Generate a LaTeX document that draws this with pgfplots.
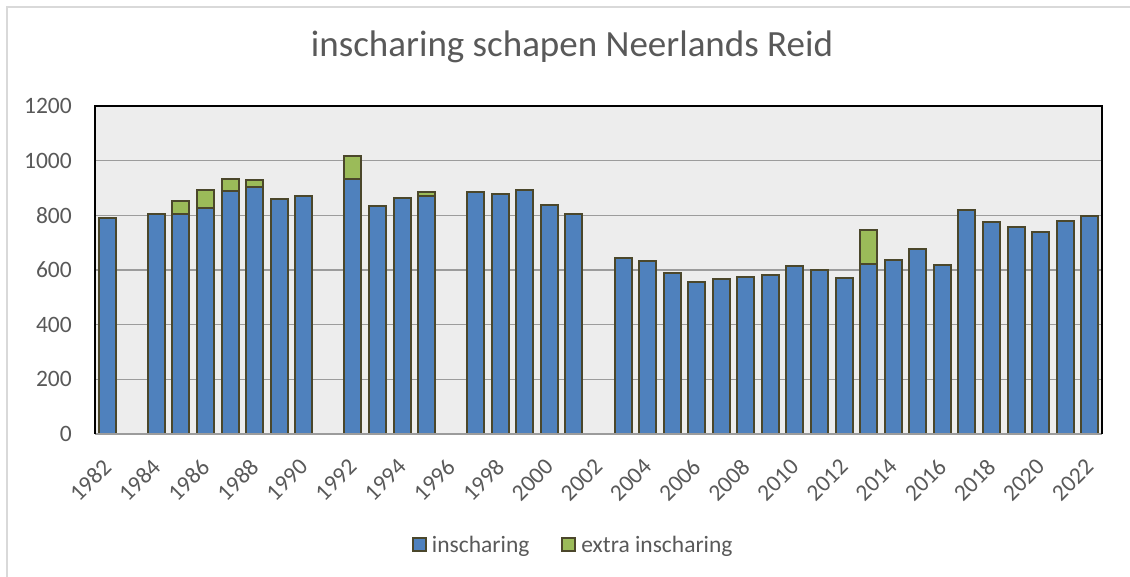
\documentclass[border=0pt]{standalone}
\usepackage{fontspec}
\setmainfont{Carlito}
\usepackage{pgfplots}
\pgfplotsset{compat=1.18}
\definecolor{barblue}{HTML}{4F81BD}
\definecolor{bargreen}{HTML}{9BBB59}
\definecolor{baredge}{HTML}{4B472B}
\definecolor{gridgray}{HTML}{9C9C9C}
\definecolor{bggray}{HTML}{EDEDED}
\definecolor{txtgray}{HTML}{595959}
\definecolor{bordergray}{HTML}{D9D9D9}
\begin{document}
\begin{tikzpicture}
\begin{axis}[
  at={(95bp,143bp)}, anchor=south west,
  scale only axis, width=1007bp, height=328bp,
  ybar stacked, bar width=17bp,
  xmin=1981.5, xmax=2022.5,
  ymin=0, ymax=1200,
  xtick={1982,1984,...,2022},
  ytick={0,200,...,1200},
  major tick length=0pt,
  /pgf/number format/1000 sep={},
  /pgf/number format/assume math mode=true,
  tick label style={font=\fontsize{23.5bp}{28bp}\selectfont, text=txtgray},
  yticklabel style={anchor=east, inner sep=0pt, xshift=-23bp},
  xticklabel style={inner sep=0pt, yshift=-29bp, rotate=45, anchor=east},
  ymajorgrids, grid style={gridgray, line width=1.5bp},
  axis line style={draw=none},
  axis background/.style={fill=bggray},
  title={inscharing schapen Neerlands Reid},
  title style={at={(0.4737,1.134)}, anchor=base, font=\fontsize{37bp}{44bp}\selectfont, text=txtgray, inner sep=0pt},
  legend columns=2,
  legend style={at={(0.475,-0.338)}, anchor=center, draw=none, fill=none,
    font=\fontsize{23.5bp}{28bp}\selectfont, text=txtgray,
    /tikz/every even column/.append style={column sep=30bp}},
  legend image code/.code={\draw[#1, line width=1.8bp] (0bp,-6.5bp) rectangle (13bp,6.5bp); \path[draw=none, fill=none] (0bp,0bp) -- (17bp,0bp);},
  after end axis/.code={
    \draw[gridgray, line width=1.5bp] (rel axis cs:0,0) -- (rel axis cs:1,0);
    \draw[black, line width=1.5bp] (rel axis cs:0,0) -- (rel axis cs:0,1) -- (rel axis cs:1,1) -- (rel axis cs:1,0);
  },
]
\addplot[fill=barblue, draw=baredge, line width=2bp] coordinates {
(1982,789) (1984,806) (1985,804) (1986,828) (1987,889) (1988,904) (1989,861) (1990,872)
(1992,933) (1993,834) (1994,863) (1995,870)
(1997,885) (1998,877) (1999,892) (2000,838) (2001,806)
(2003,644) (2004,632) (2005,588) (2006,555) (2007,568) (2008,574) (2009,582)
(2010,615) (2011,601) (2012,572) (2013,623) (2014,637) (2015,677) (2016,617)
(2017,820) (2018,777) (2019,759) (2020,740) (2021,779) (2022,799)
};
\addlegendentry{inscharing}
\addplot[fill=bargreen, draw=baredge, line width=2bp] coordinates {
(1982,0) (1984,0) (1985,47) (1986,66) (1987,45) (1988,24) (1989,0) (1990,0)
(1992,84) (1993,0) (1994,0) (1995,17)
(1997,0) (1998,0) (1999,0) (2000,0) (2001,0)
(2003,0) (2004,0) (2005,0) (2006,0) (2007,0) (2008,0) (2009,0)
(2010,0) (2011,0) (2012,0) (2013,122) (2014,0) (2015,0) (2016,0)
(2017,0) (2018,0) (2019,0) (2020,0) (2021,0) (2022,0)
};
\addlegendentry{extra inscharing}
\end{axis}
\draw[bordergray, line width=1.5bp] (7bp,0bp) -- (7bp,570bp) -- (1130bp,570bp);
\pgfresetboundingbox
\path (0bp,0bp) rectangle (1130bp,577bp);
\end{tikzpicture}
\end{document}
